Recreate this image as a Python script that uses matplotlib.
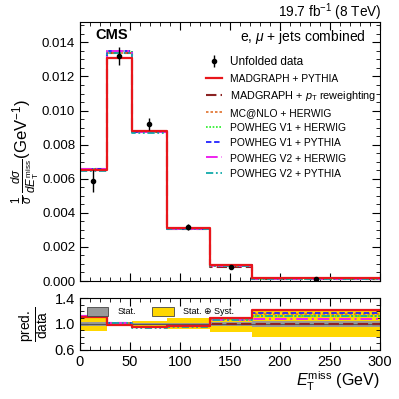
import matplotlib
matplotlib.use("Agg")
import matplotlib.pyplot as plt
import numpy as np
from matplotlib.lines import Line2D
from matplotlib.patches import Patch
from matplotlib.ticker import MultipleLocator, FixedLocator

plt.rcParams['font.family'] = ['Liberation Sans', 'DejaVu Sans']
plt.rcParams['mathtext.fontset'] = 'custom'
plt.rcParams['mathtext.rm'] = 'Liberation Sans'
plt.rcParams['mathtext.it'] = 'Liberation Sans:italic'
plt.rcParams['mathtext.bf'] = 'Liberation Sans:bold'

# ---- data ----
edges = [0, 27, 52, 87, 130, 172, 300]
data = [0.00585, 0.01322, 0.00922, 0.00318, 0.00085, 0.00013]
data_err = [0.00064, 0.00052, 0.00035, 0.00016, 0.00005, 0.00001]

model_names = ["MADGRAPH + PYTHIA", r"MADGRAPH + $p_{\mathrm{T}}$ reweighting",
               "MC@NLO + HERWIG", "POWHEG V1 + HERWIG", "POWHEG V1 + PYTHIA",
               "POWHEG V2 + HERWIG", "POWHEG V2 + PYTHIA"]
mg_pythia = [0.00649, 0.01309, 0.00881, 0.00310, 0.000927, 0.000159]
mg_ptrw = [0.00655, 0.01335, 0.00876, 0.00308, 0.000850, 0.000130]
mcnlo_herwig = [0.00649, 0.01335, 0.00876, 0.00308, 0.000910, 0.000150]
pwg1_herwig = [0.00655, 0.01348, 0.00876, 0.00308, 0.000920, 0.000146]
pwg1_pythia = [0.00655, 0.01348, 0.00876, 0.00308, 0.000930, 0.000153]
pwg2_herwig = [0.00655, 0.01348, 0.00876, 0.00308, 0.000900, 0.000139]
pwg2_pythia = [0.00644, 0.01335, 0.00867, 0.00305, 0.000900, 0.000146]

# relative uncertainties on data (ratio panel bands)
stat_rel = [0.025, 0.012, 0.012, 0.015, 0.025, 0.04]
tot_up_rel = [0.11, 0.03, 0.045, 0.09, 0.10, 0.20]
tot_dn_rel = [0.11, 0.035, 0.06, 0.08, 0.13, 0.20]

models = [mg_ptrw, mcnlo_herwig, pwg1_herwig, pwg1_pythia, pwg2_herwig, pwg2_pythia, mg_pythia]
names = [model_names[1], model_names[2], model_names[3], model_names[4],
         model_names[5], model_names[6], model_names[0]]
colors = ['#8b2323', '#e0702a', '#22ee22', '#2222ff', '#ee22ee', '#11aaaa', '#e8161b']
styles = [(0, (5, 2)), (0, (1.5, 1.2)), (0, (1, 1)), (0, (3, 1.5)), (0, (6, 2, 1, 2)),
          (0, (4, 1.5, 1, 1.5, 1, 1.5)), '-']
widths = [1.5, 1.2, 1.2, 1.3, 1.4, 1.3, 1.6]

edges_a = np.array(edges, dtype=float)
centers = 0.5 * (edges_a[1:] + edges_a[:-1])
data_a = np.array(data)

fig = plt.figure(figsize=(3.99, 3.99), dpi=100)
ax = fig.add_axes([0.2005, 0.2957, 0.7515, 0.6493])
rax = fig.add_axes([0.2005, 0.123, 0.7515, 0.130])

def step_vals(v):
    return np.append(v, v[-1])

for m, c, ls, lw in zip(models, colors, styles, widths):
    ax.step(edges_a, step_vals(np.array(m)), where='post', color=c, ls=ls, lw=lw)
eb = ax.errorbar(centers, data_a, yerr=data_err, fmt='o', color='black', ms=3, lw=1,
                 capsize=0, zorder=10)

ax.set_xlim(0, 300)
ax.set_ylim(0, 0.0152)
ax.yaxis.set_major_locator(MultipleLocator(0.002))
ax.yaxis.set_minor_locator(MultipleLocator(0.0005))
ax.xaxis.set_major_locator(MultipleLocator(50))
ax.xaxis.set_minor_locator(MultipleLocator(10))
ax.yaxis.set_major_formatter(matplotlib.ticker.FormatStrFormatter('%.3f'))
for a in (ax, rax):
    a.tick_params(which='both', direction='in', top=True, right=True, labelsize=9.5)
    a.tick_params(which='major', length=6)
    a.tick_params(which='minor', length=3)
    for s in a.spines.values():
        s.set_linewidth(0.8)
ax.tick_params(labelbottom=False)
rax.tick_params(labelsize=10.5)

ax.set_ylabel(r"$\frac{1}{\sigma}\,\frac{d\sigma}{d E_{\mathrm{T}}^{\mathrm{miss}}}$(GeV$^{-1}$)",
              fontsize=12, labelpad=0)

# legend
handles = [eb]
labels = ["Unfolded data"]
order = [6, 0, 1, 2, 3, 4, 5]
for i in order:
    handles.append(Line2D([], [], color=colors[i], ls=styles[i], lw=widths[i]))
    labels.append(names[i])
leg = ax.legend(handles, labels, loc='upper left', bbox_to_anchor=(0.405, 0.885), frameon=False,
                fontsize=8.5, handlelength=1.3, labelspacing=0.42, handletextpad=0.7, borderaxespad=0)
for t in leg.get_texts()[1:]:
    t.set_fontsize(7.4)
leg.get_texts()[2].set_fontsize(7.8)

ax.text(0.052, 0.975, "CMS", transform=ax.transAxes, fontsize=10.5, fontweight='bold', va='top')
ax.text(0.952, 0.975, r"e, $\mu$ + jets combined", transform=ax.transAxes, fontsize=10,
        ha='right', va='top')
fig.text(0.957, 1 - 17.0 / 399, r"19.7 fb$^{-1}$ (8 TeV)", fontsize=9.8,
         ha='right', va='baseline')

# ratio panel
ones = np.ones(len(data))
tot_lo = ones - np.array(tot_dn_rel)
tot_hi = ones + np.array(tot_up_rel)
st_lo = ones - np.array(stat_rel)
st_hi = ones + np.array(stat_rel)
rax.fill_between(edges_a, step_vals(tot_lo), step_vals(tot_hi), step='post', color='#ffd700', lw=0)
rax.fill_between(edges_a, step_vals(st_lo), step_vals(st_hi), step='post', color='#999999', lw=0)
rax.step(edges_a, step_vals(ones), where='post', color='#555555', lw=0.8)
for m, c, ls, lw in zip(models, colors, styles, widths):
    rax.step(edges_a, step_vals(np.array(m) / data_a), where='post', color=c, ls=ls, lw=lw)

rax.set_xlim(0, 300)
rax.set_ylim(0.6, 1.4)
rax.yaxis.set_major_locator(FixedLocator([0.6, 1.0, 1.4]))
rax.yaxis.set_minor_locator(MultipleLocator(0.1))
rax.xaxis.set_major_locator(MultipleLocator(50))
rax.xaxis.set_minor_locator(MultipleLocator(10))
rax.yaxis.set_major_formatter(matplotlib.ticker.FormatStrFormatter('%.1f'))
rax.set_ylabel(r"$\frac{\mathrm{pred.}}{\mathrm{data}}$", fontsize=14, labelpad=2)
rax.set_xlabel(r"$E_{\mathrm{T}}^{\mathrm{miss}}$ (GeV)", fontsize=11.5, loc='right', labelpad=1)

bh = [Patch(facecolor='#999999', edgecolor='#444444', lw=0.6),
      Patch(facecolor='#ffd700', edgecolor='#444444', lw=0.6)]
rax.legend(bh, ["Stat.", "Stat. \u2295 Syst."], loc='upper left', bbox_to_anchor=(0.01, 0.90),
           ncol=2, frameon=False, fontsize=6.5, handlelength=2.4, handleheight=1.1,
           handletextpad=1.0, columnspacing=1.8, borderaxespad=0)

fig.savefig("out.png", dpi=100)
